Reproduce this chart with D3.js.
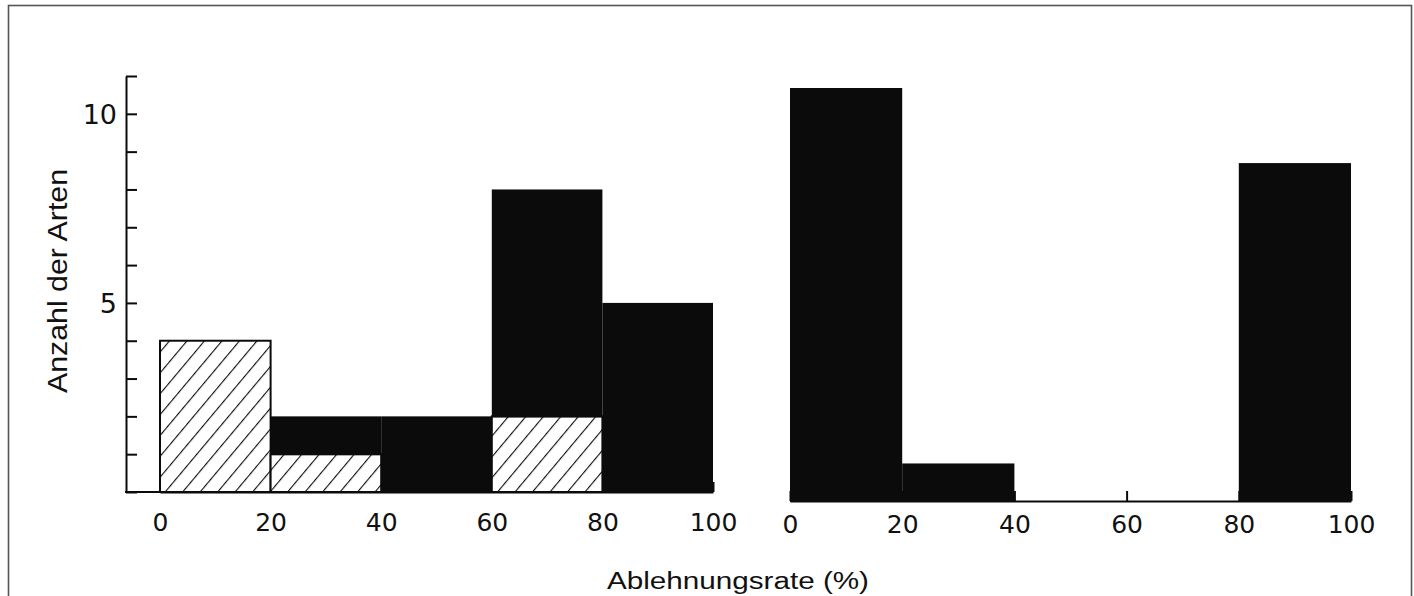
<!DOCTYPE html>
<html>
<head>
<meta charset="utf-8">
<script src="https://cdn.jsdelivr.net/npm/d3@7"></script>
<style>
  html, body { margin: 0; padding: 0; background: #fff; }
  svg { display: block; }
  .num { font-family: "DejaVu Sans", sans-serif; fill: #111; }
  .ttl { font-family: "Liberation Sans", Arial, sans-serif; fill: #111; }
</style>
</head>
<body>
<svg id="chart" width="1414" height="596"></svg>
<script>
// ---- data ----
const binStart = [0, 20, 40, 60, 80];
const binEnd = [20, 40, 60, 80, 100];
const leftHatched = [4, 1, 0, 2, 0];   // hatched part, left panel
const leftBlack = [0, 1, 2, 6, 5];     // black part stacked on top, left panel
const rightBlack = [11, 1, 0, 0, 9];   // right panel
const xTickValues = [0, 20, 40, 60, 80, 100];
const yTickValues = [0, 1, 2, 3, 4, 5, 6, 7, 8, 9, 10, 11];
const yTickLabels = [5, 10];
const yTitle = "Anzahl der Arten";
const xTitle = "Ablehnungsrate (%)";

// ---- layout ----
const svg = d3.select("#chart");
const ink = "#0b0b0b";

svg.append("rect")
  .attr("x", 8.5).attr("y", 5.5).attr("width", 1403).attr("height", 620)
  .attr("fill", "none").attr("stroke", "#555").attr("stroke-width", 1.6);

const defs = svg.append("defs");
const pat = defs.append("pattern")
  .attr("id", "hatch").attr("patternUnits", "userSpaceOnUse")
  .attr("width", 13.4).attr("height", 13.4)
  .attr("patternTransform", "rotate(40)");
pat.append("rect").attr("width", 13.4).attr("height", 13.4).attr("fill", "#fff");
pat.append("line").attr("x1", 0).attr("y1", -2).attr("x2", 0).attr("y2", 16)
  .attr("stroke", ink).attr("stroke-width", 2.2);

const xL = d3.scaleLinear().domain([0, 100]).range([160, 713]);
const xR = d3.scaleLinear().domain([0, 100]).range([790, 1351]);
const yL = d3.scaleLinear().domain([0, 11]).range([492, 76]);
const yR = d3.scaleLinear().domain([0, 11]).range([501, 88]);

const axisX = 126;

// y axis
const gy = svg.append("g").attr("transform", `translate(${axisX},0)`)
  .call(d3.axisRight(yL).tickValues(yTickValues).tickSize(11).tickSizeOuter(0).tickFormat(""));
gy.selectAll("path,line").attr("stroke", ink).attr("stroke-width", 2);

svg.selectAll(".ylab").data(yTickLabels).join("text")
  .attr("class", "num")
  .attr("x", axisX - 9).attr("y", d => yL(d)).attr("dy", "0.36em")
  .attr("text-anchor", "end").attr("font-size", 27)
  .text(d => d);

// left baseline
svg.append("line")
  .attr("x1", axisX - 1).attr("x2", xL(100)).attr("y1", yL(0)).attr("y2", yL(0))
  .attr("stroke", ink).attr("stroke-width", 2);

// x axes (ticks point up, labels below)
function xAxis(scale, y, pad) {
  const g = svg.append("g").attr("transform", `translate(0,${y})`)
    .call(d3.axisBottom(scale).tickValues(xTickValues).tickSize(-10).tickSizeOuter(0).tickPadding(pad));
  g.selectAll("path,line").attr("stroke", ink).attr("stroke-width", 2);
  g.selectAll("text").attr("class", "num").attr("font-size", 25)
    .attr("font-family", null).style("fill", "#111");
  return g;
}
xAxis(xL, yL(0), 21);
xAxis(xR, yR(0), 14);

// left panel: hatched bars
const leftIdx = d3.range(binStart.length);
svg.append("g").selectAll("rect").data(leftIdx.filter(i => leftHatched[i] > 0)).join("rect")
  .attr("x", i => xL(binStart[i])).attr("width", i => xL(binEnd[i]) - xL(binStart[i]))
  .attr("y", i => yL(leftHatched[i])).attr("height", i => yL(0) - yL(leftHatched[i]))
  .attr("fill", "url(#hatch)").attr("stroke", ink).attr("stroke-width", 2);

// left panel: black bars stacked on top
svg.append("g").selectAll("rect").data(leftIdx.filter(i => leftBlack[i] > 0)).join("rect")
  .attr("x", i => xL(binStart[i])).attr("width", i => xL(binEnd[i]) - xL(binStart[i]))
  .attr("y", i => yL(leftHatched[i] + leftBlack[i]))
  .attr("height", i => yL(leftHatched[i]) - yL(leftHatched[i] + leftBlack[i]) + (leftHatched[i] > 0 ? 1 : 1))
  .attr("fill", ink);

// right panel: black bars
svg.append("g").selectAll("rect").data(leftIdx.filter(i => rightBlack[i] > 0)).join("rect")
  .attr("x", i => xR(binStart[i])).attr("width", i => xR(binEnd[i]) - xR(binStart[i]))
  .attr("y", i => yR(rightBlack[i])).attr("height", i => yR(0) - yR(rightBlack[i]) + 1)
  .attr("fill", ink);

// titles
svg.append("text").attr("class", "ttl")
  .attr("transform", "translate(67,281) rotate(-90)")
  .attr("text-anchor", "middle").attr("font-size", 27)
  .attr("textLength", 224).attr("lengthAdjust", "spacingAndGlyphs")
  .text(yTitle);

svg.append("text").attr("class", "ttl")
  .attr("x", 738).attr("y", 589)
  .attr("text-anchor", "middle").attr("font-size", 23)
  .attr("textLength", 262).attr("lengthAdjust", "spacingAndGlyphs")
  .text(xTitle);
</script>
</body>
</html>
